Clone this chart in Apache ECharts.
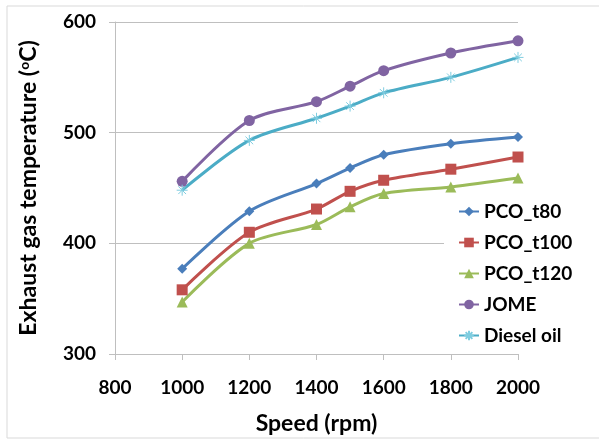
<!DOCTYPE html>
<html>
<head>
<meta charset="utf-8">
<script src="https://cdn.jsdelivr.net/npm/echarts@6/dist/echarts.min.js"></script>
<style>
    html, body { margin: 0; padding: 0; background: #fff; }
    #chart { width: 599px; height: 440px; }
</style>
</head>
<body>
<div id="chart"></div>
<script>
// 转速 (rpm)
var speeds = [1000, 1200, 1400, 1500, 1600, 1800, 2000];
var pco_t80 = [377, 429, 454, 468, 480, 490, 496];
var pco_t100 = [358, 410, 431, 447, 457, 467, 478];
var pco_t120 = [347, 400, 417, 433, 445, 451, 459];
var jome = [456, 511, 528, 542, 556, 572, 583];
var diesel = [448, 493, 513, 524, 536, 550, 568];
var seriesNames = ["PCO_t80", "PCO_t100", "PCO_t120", "JOME", "Diesel oil"];

var font = "Lato, 'Liberation Sans', sans-serif";
var chart = echarts.init(document.getElementById("chart"));

function pairs(vals) {
    var out = [];
    for (var i = 0; i < speeds.length; i++) {
        out.push([speeds[i], vals[i]]);
    }
    return out;
}

function makeSeries(name, vals, color, symbol, size, extra) {
    var s = {
        name: name,
        type: 'line',
        smooth: 0.3,
        symbol: symbol,
        symbolSize: size,
        lineStyle: { color: color, width: 3 },
        itemStyle: { color: color },
        data: pairs(vals)
    };
    if (extra) {
        for (var k in extra) s[k] = extra[k];
    }
    return s;
}

var asterisk = 'path://M0,5L10,5M5,0L5,10M1.5,1.5L8.5,8.5M8.5,1.5L1.5,8.5';

var option = {
    animation: false,
    backgroundColor: '#fff',
    graphic: [{
        type: 'rect',
        shape: { x: 7, y: 6, width: 600, height: 432 },
        style: { fill: 'none', stroke: '#d9d9d9', lineWidth: 1 },
        silent: true
    }],
    grid: { left: 115, right: 81, top: 22, bottom: 83, containLabel: false },
    legend: {
        orient: 'vertical',
        left: 444,
        top: 198,
        padding: [4, 6, 4, 14],
        backgroundColor: '#fff',
        itemWidth: 20,
        itemHeight: 12,
        itemGap: 12,
        textStyle: { fontFamily: font, fontWeight: 'bold', fontSize: 19, color: '#000' },
        data: seriesNames
    },
    xAxis: {
        type: 'value',
        min: 800,
        max: 2000,
        interval: 200,
        name: 'Speed (rpm)',
        nameLocation: 'middle',
        nameGap: 58,
        nameTextStyle: { fontFamily: font, fontWeight: 'bold', fontSize: 23, color: '#000' },
        axisLine: { lineStyle: { color: '#bfbfbf', width: 1 } },
        axisTick: { show: true, length: 6, lineStyle: { color: '#bfbfbf' } },
        axisLabel: {
            fontFamily: font, fontWeight: 'bold', fontSize: 19, color: '#000', margin: 24,
            formatter: function (v) { return String(v); }
        },
        splitLine: { show: false }
    },
    yAxis: {
        type: 'value',
        min: 300,
        max: 600,
        interval: 100,
        name: 'Exhaust gas temperature ({sup|o}C)',
        nameLocation: 'middle',
        nameGap: 75,
        nameRotate: 90,
        nameTextStyle: {
            fontFamily: font, fontWeight: 'bold', fontSize: 23, color: '#000',
            rich: {
                sup: { fontFamily: font, fontWeight: 'bold', fontSize: 14, verticalAlign: 'top', padding: [0, 0, 9, 0], color: '#000' }
            }
        },
        axisLine: { show: true, lineStyle: { color: '#bfbfbf', width: 1 } },
        axisTick: { show: true, length: 6, lineStyle: { color: '#bfbfbf' } },
        axisLabel: {
            fontFamily: font, fontWeight: 'bold', fontSize: 19, color: '#000', margin: 19,
            formatter: function (v) { return String(v); }
        },
        splitLine: { show: true, lineStyle: { color: '#bfbfbf', width: 1 } }
    },
    series: [
        makeSeries("PCO_t80", pco_t80, '#4a7ebb', 'diamond', 10),
        makeSeries("PCO_t100", pco_t100, '#c0504d', 'rect', 11),
        makeSeries("PCO_t120", pco_t120, '#9bbb59', 'triangle', 11),
        makeSeries("JOME", jome, '#8064a2', 'circle', 11),
        makeSeries("Diesel oil", diesel, '#4bacc6', asterisk, 11, {
            itemStyle: { color: '#4bacc6', borderColor: '#7fcde0', borderWidth: 1 }
        })
    ]
};
chart.setOption(option, true);
window.onresize = function () {
    chart.resize();
};
</script>
</body>
</html>
